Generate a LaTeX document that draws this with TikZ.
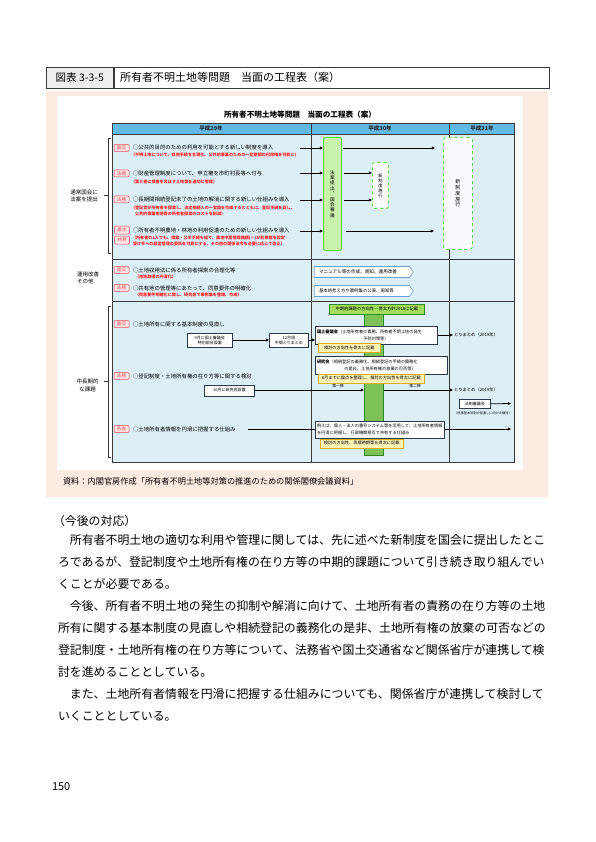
\documentclass[tikz,border=0pt]{standalone}
\usepackage{fontspec}
\setmainfont{Noto Sans CJK JP}
\usetikzlibrary{arrows.meta,shapes.symbols}
\definecolor{pinkbg}{HTML}{FDEBE1}
\definecolor{hdrblue}{HTML}{62B9E6}
\definecolor{rowblue}{HTML}{DCEEF6}
\definecolor{gridc}{HTML}{3A3A3A}
\definecolor{tagred}{HTML}{E8505C}
\definecolor{tagfill}{HTML}{FDE4E4}
\definecolor{subred}{HTML}{FF2222}
\definecolor{gfill}{HTML}{C9F2AC}
\definecolor{gline}{HTML}{66D83C}
\definecolor{dfill}{HTML}{F9FAFF}
\definecolor{bannerfill}{HTML}{A3DE5F}
\definecolor{bannerline}{HTML}{2F8A22}
\definecolor{barfill}{HTML}{7CC257}
\definecolor{navy}{HTML}{2B3A4A}
\definecolor{yelfill}{HTML}{FFF4B8}
\definecolor{yelline}{HTML}{D9AE1A}
\definecolor{sigline}{HTML}{6FA3D8}
\definecolor{hdrgray}{HTML}{EEEEEE}
\newcommand{\fsz}[1]{\fontsize{#1}{#1}\selectfont}
\newcommand{\fsl}[2]{\fontsize{#1}{#2}\selectfont}
\tikzset{
  txt/.style={inner sep=0pt, outer sep=0pt, anchor=west},
  tagbox/.style={draw=tagred, fill=tagfill, rounded corners=1pt, line width=0.5pt, minimum width=15pt, minimum height=7pt, inner sep=0pt, text=tagred, font=\fsz{4.6}},
  itemtxt/.style={txt, font=\fsz{5.4}},
  redtxt/.style={txt, text=subred, font=\fsz{4.1}\bfseries},
  arr/.style={-{Triangle[length=3.2pt,width=2.8pt]}, line width=0.8pt, draw=black},
  plainln/.style={line width=0.8pt, draw=black},
  gridln/.style={draw=gridc, line width=0.6pt},
  wbox/.style={draw=navy, fill=white, line width=0.7pt, inner sep=0pt, anchor=north west},
  ybox/.style={draw=yelline, fill=yelfill, line width=0.5pt, inner sep=0pt, anchor=north west, font=\fsz{4.2}},
  sigbox/.style={signal, signal to=east, signal pointer angle=110, draw=sigline, fill=white, line width=0.6pt, inner sep=0pt, minimum height=11pt, minimum width=99pt, anchor=west},
  bodyln/.style={txt, font=\fsz{11.9}},
}
\begin{document}
\begin{tikzpicture}[x=1pt,y=-1pt]
\useasboundingbox (0,0) rectangle (595,842);
\fill[white] (0,0) rectangle (595,842);
% ---- header
\node[draw=gridc, line width=0.6pt, fill=hdrgray, minimum width=67pt, minimum height=21pt, inner sep=0pt, anchor=north west, font=\fsz{10.5}] (hc1) at (46,67) {図表 3-3-5};
\node[draw=gridc, line width=0.6pt, minimum width=435pt, minimum height=21pt, inner sep=0pt, anchor=north west] (hc2) at (hc1.north east) {};
\node[txt, font=\fsz{11}] (htitle) at (120,77.5) {所有者不明土地等問題　当面の工程表（案）};
% ---- backgrounds
\fill[pinkbg] (46,91) rectangle (548,497);
\fill[white] (57,96) rectangle (523,470);
\node[font=\fsz{7.6}\bfseries, inner sep=0pt] (ctitle) at (300,115) {所有者不明土地等問題　当面の工程表（案）};
% ---- table
\fill[rowblue] (112,134) rectangle (514,462);
\fill[hdrblue] (112,123) rectangle (514,134);
\draw[gridln] (112,123) rectangle (514,462);
\draw[gridln] (112,134) -- (514,134);
\draw[gridln] (112,259) -- (514,259);
\draw[gridln] (112,301) -- (514,301);
\draw[gridln] (311,123) -- (311,462);
\draw[gridln] (449,123) -- (449,462);
\node[font=\fsz{5.5}\bfseries, inner sep=0pt, text=black!85] (y29) at (211,128.5) {平成29年};
\node[font=\fsz{5.5}\bfseries, inner sep=0pt, text=black!85] (y30) at (380,128.5) {平成30年};
\node[font=\fsz{5.5}\bfseries, inner sep=0pt, text=black!85] (y31) at (482,128.5) {平成31年};
% ---- left labels and brackets
\node[font=\fsl{5.5}{7}, align=center, inner sep=0pt] (lab1) at (84,195.5) {通常国会に\\法案を提出};
\node[font=\fsl{5.5}{7}, align=left, inner sep=0pt, anchor=west] (lab2) at (77,278) {運用改善\\その他};
\node[font=\fsl{5.5}{8}, align=center, inner sep=0pt] (lab3) at (87.5,385) {中長期的\\な課題};
\draw[gridln] (111,138) -- (108,138) -- (108,253) -- (111,253);
\draw[gridln] (108,195) -- (104,195);
\draw[gridln] (111,306) -- (108,306) -- (108,457) -- (111,457);
\draw[gridln] (108,381) -- (104,381);
% ---- row 1
\node[tagbox] (t1) at (121.5,148) {国交};
\node[itemtxt] (i1) at (133,147.5) {○公共的目的のための利用を可能とする新しい制度を導入};
\node[redtxt] (r1) at (131,154.5) {（不明土地について、収用手続を合理化、公共的事業のための一定期間の利用権を可能に）};
\node[tagbox] (t2) at (121.5,173.5) {法務};
\node[itemtxt] (i2) at (133,173) {○財産管理制度について、申立権を市町村長等へ付与};
\node[redtxt] (r2) at (131,181.5) {（第三者に損害を及ぼす土地等を適切に管理）};
\node[tagbox] (t3) at (121.5,199.5) {法務};
\node[itemtxt] (i3) at (133,199) {○長期間相続登記未了の土地の解消に関する新しい仕組みを導入};
\node[redtxt] (r3a) at (131,207.5) {（登記官が所有者を探索し、法定相続人の一覧図を作成するとともに、登記手続を促し、};
\node[redtxt] (r3b) at (135,213.5) {公共的事業用地等の所有者探索のコストを削減）};
\node[tagbox, minimum height=8pt] (t4a) at (122,230) {農水};
\node[tagbox, minimum height=8pt] (t4b) at (122,240) {林野};
\node[itemtxt] (i4) at (133,230) {○所有者不明農地・林地の利用促進のための新しい仕組みを導入};
\node[redtxt] (r4a) at (132,238) {（所有者の1人でも、探索・公示手続を経て、農地中間管理機構(※)が利用権を設定};
\node[redtxt] (r4b) at (133,244) {受け手への経営管理の委託を可能にする。その他の関係法令も必要に応じて改正）};
% vertical boxes
\node[draw=gline, fill=gfill, line width=1pt, rounded corners=2pt, minimum width=18pt, minimum height=113pt, inner sep=0pt, anchor=north west] (gbox) at (323,137) {};
\node[font=\fsl{4.6}{5.4}, align=center, inner sep=0pt] (gtxt) at (gbox.center) {法\\案\\提\\出\\︑\\国\\会\\審\\議};
\node[draw=gline, fill=dfill, dashed, line width=0.9pt, rounded corners=2pt, minimum width=16pt, minimum height=46pt, inner sep=0pt, anchor=north west] (nsmall) at (372,162) {};
\node[font=\fsl{4.2}{5}, align=center, inner sep=0pt] (nstxt) at (nsmall.center) {新\\制\\度\\施\\行};
\node[draw=gline, fill=dfill, dashed, line width=0.9pt, rounded corners=3pt, minimum width=29pt, minimum height=112pt, inner sep=0pt, anchor=north west] (nbig) at (443,137) {};
\node[font=\fsl{5}{5.8}, align=center, inner sep=0pt] (nbtxt) at (nbig.center) {新\\制\\度\\施\\行};
\coordinate (a1) at (300,148);
\coordinate (a2) at (300,173);
\coordinate (a3) at (300,200);
\coordinate (a4) at (300,231);
\draw[arr] (a1) -- (gbox.west |- a1);
\draw[arr] (a2) -- (gbox.west |- a2);
\draw[arr] (a3) -- (gbox.west |- a3);
\draw[arr] (a4) -- (gbox.west |- a4);
\draw[arr] ([xshift=1pt]gbox.east |- a1) -- ([xshift=-8pt]nbig.west |- a1);
\draw[arr] ([xshift=2pt]gbox.east |- a2) -- (nsmall.west |- a2);
\draw[arr] ([xshift=2pt]gbox.east |- a3) -- (nsmall.west |- a3);
\draw[arr] ([xshift=4pt]gbox.east |- a4) -- ([xshift=-9pt]nbig.west |- a4);
% ---- row 2
\node[tagbox] (t5) at (121.5,270) {国交};
\node[itemtxt] (i5) at (133,270) {○土地収用法に係る所有者探索の合理化等};
\node[redtxt] (r5) at (135,277) {（用地取得の円滑化）};
\node[tagbox] (t6) at (121.5,288) {法務};
\node[itemtxt] (i6) at (133,288) {○共有地の管理等にあたって、同意要件の明確化};
\node[redtxt] (r6) at (135,295) {（同意要件明確化に関し、研究会で事例集を整理、作成）};
\node[sigbox] (s1) at (314,272) {};
\node[txt, font=\fsz{4.6}] (s1t) at (319,272) {マニュアル等の作成、周知、運用改善};
\node[sigbox] (s2) at (314,291) {};
\node[txt, font=\fsz{4.4}] (s2t) at (319,291) {基本的考え方や事例集の公表、周知等};
% ---- row 3 left
\node[tagbox] (t7) at (121.5,324) {国交};
\node[itemtxt] (i7) at (133,324) {○土地所有に関する基本制度の見直し};
\node[wbox, minimum width=45pt, minimum height=14pt] (b9) at (187,333) {};
\node[font=\fsl{4}{5.6}, align=center, inner sep=0pt] (b9t) at (b9.center) {9月に国土審議会\\特別部会設置};
\node[wbox, minimum width=39pt, minimum height=14pt] (b12) at (269,333) {};
\node[font=\fsl{4}{5.6}, align=center, inner sep=0pt] (b12t) at (b12.center) {12月頃\\中間とりまとめ};
\node[tagbox] (t8) at (121.5,376) {法務};
\node[itemtxt] (i8) at (133,376) {○登記制度・土地所有権の在り方等に関する検討};
\node[wbox, minimum width=50pt, minimum height=11pt] (b10) at (204,384.5) {};
\node[font=\fsz{4}, inner sep=0pt] (b10t) at (b10.center) {10月に研究会設置};
\node[tagbox] (t9) at (121.5,429) {各省};
\node[itemtxt] (i9) at (133,429) {○土地所有者情報を円滑に把握する仕組み};
\coordinate (c9) at (248,429);
% ---- row 3 right
\node[draw=bannerline, fill=barfill, line width=0.7pt, minimum width=19pt, minimum height=141pt, inner sep=0pt, anchor=north west] (bar) at (364,314) {};
\node[draw=bannerline, fill=bannerfill, line width=0.7pt, minimum width=95pt, minimum height=10pt, inner sep=0pt, anchor=north west] (ban) at (329,304) {};
\node[font=\fsz{4.3}, inner sep=0pt] (bant) at (ban.center) {中期的課題の方向性―骨太方針2018に記載};
\node[wbox, minimum width=122pt, minimum height=18pt] (bA) at (315,326) {};
\node[txt, font=\fsz{4.2}] (bA1) at (317,332) {\textbf{国土審議会}（土地所有者の責務、所有者不明土地の発生};
\node[font=\fsz{4.2}, inner sep=0pt] (bA2) at (376,339) {予防対策等）};
\node[ybox, minimum width=62pt, minimum height=9pt] (yA) at (318,343) {検討の方向性を骨太に記載};
\node[wbox, minimum width=132pt, minimum height=18pt] (bB) at (315,356) {};
\node[txt, font=\fsz{4.2}] (bB1) at (317,361.5) {\textbf{研究会}（相続登記の義務化、相続登記の手続の簡略化};
\node[font=\fsz{4.2}, inner sep=0pt] (bB2) at (380,368.5) {の是非、土地所有権の放棄の可否等）};
\node[ybox, minimum width=106pt, minimum height=9pt] (yB) at (318,373.5) {6月までに論点を整理し、検討の方向性を骨太に記載};
\node[wbox, minimum width=129pt, minimum height=17pt] (bC) at (315,420.5) {};
\node[txt, font=\fsz{4.2}] (bC1) at (317,425.5) {例えば、個人・法人の番号システム等を活用して、土地所有者情報};
\node[txt, font=\fsz{4.2}] (bC2) at (317,432.5) {を円滑に把握し、行政機関相互で共有する仕組み};
\node[ybox, minimum width=83pt, minimum height=9pt] (yC) at (320,438.5) {検討の方向性、目標時期等を骨太に記載};
\node[txt, font=\fsz{4.3}] (tmA) at (454,335) {とりまとめ（2019年）};
\node[txt, font=\fsz{4.3}] (tmB) at (454,390) {とりまとめ（2019年）};
\node[wbox, minimum width=31pt, minimum height=9pt, font=\fsz{4}] (hs) at (459,399) {法制審議会};
\node[font=\fsz{3.2}, inner sep=0pt] (hst) at (483,413) {（民事基本法制の見直しに向けた検討）};
\node[font=\fsz{3.8}, inner sep=0pt] (l1) at (338,386.5) {第一弾};
\node[font=\fsz{3.8}, inner sep=0pt] (l2) at (415,386.5) {第二弾};
\coordinate (e1) at (511,403.5);
\coordinate (e2) at (511,429);
% connectors row 3
\draw[arr] (b9.east |- 0,340) -- (b12.west |- 0,340);
\draw[arr] (b12.east |- 0,340) -- (bA.west |- 0,340);
\draw[arr] (bA.east |- 0,335) -- ([xshift=-1pt]tmA.west);
\draw[arr] (b10.east |- 0,390) -- (bar.west |- 0,390);
\draw[arr] (bar.east |- 0,390) -- ([xshift=-1pt]tmB.west);
\draw[arr] (hs.east) -- (e1);
\draw[plainln] (c9) -- (bC.west |- c9);
\draw[arr] (bC.east |- e2) -- (e2);
% ---- caption
\node[txt, font=\fsz{8.2}] (cap) at (63,481) {資料：内閣官房作成「所有者不明土地等対策の推進のための関係閣僚会議資料」};
% ---- body text
\node[txt, font=\fsz{11.9}] (head) at (53,521) {（今後の対応）};
\node[bodyln] (p1) at (58,540) {　所有者不明土地の適切な利用や管理に関しては、先に述べた新制度を国会に提出したとこ};
\node[bodyln] (p2) at (58,562) {ろであるが、登記制度や土地所有権の在り方等の中期的課題について引き続き取り組んでい};
\node[bodyln] (p3) at (58,584) {くことが必要である。};
\node[bodyln] (p4) at (58,606) {　今後、所有者不明土地の発生の抑制や解消に向けて、土地所有者の責務の在り方等の土地};
\node[bodyln] (p5) at (58,628) {所有に関する基本制度の見直しや相続登記の義務化の是非、土地所有権の放棄の可否などの};
\node[bodyln] (p6) at (58,650) {登記制度・土地所有権の在り方等について、法務省や国土交通省など関係省庁が連携して検};
\node[bodyln] (p7) at (58,672) {討を進めることとしている。};
\node[bodyln] (p8) at (58,694) {　また、土地所有者情報を円滑に把握する仕組みについても、関係省庁が連携して検討して};
\node[bodyln] (p9) at (58,716) {いくこととしている。};
\node[txt, font=\fsz{11}] (pg) at (52,787) {150};
\end{tikzpicture}
\end{document}
